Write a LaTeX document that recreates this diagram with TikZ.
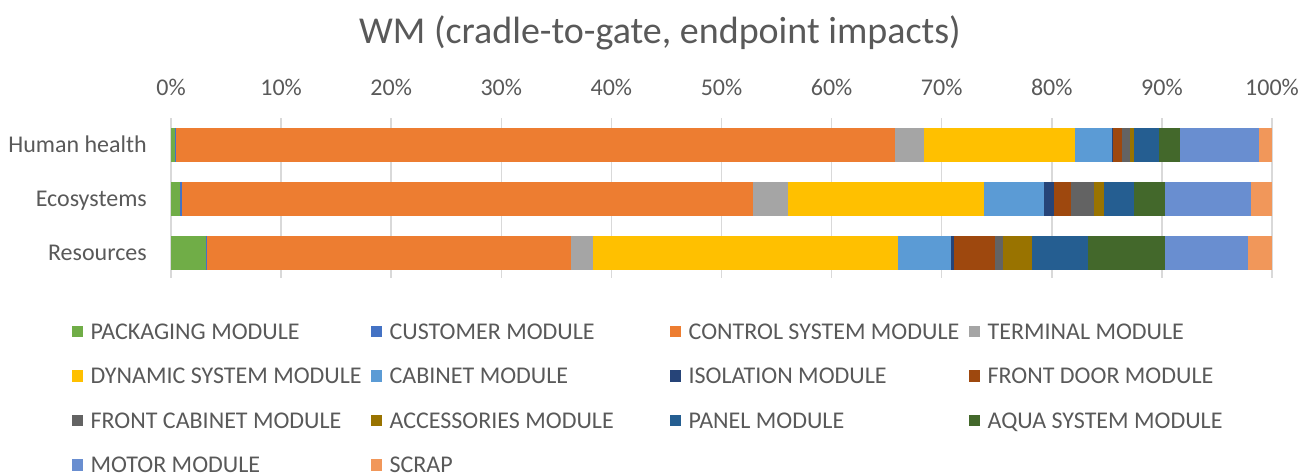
\documentclass[tikz,border=0pt]{standalone}
\usepackage{fontspec}
\setmainfont{Carlito}
\usepackage{xcolor}
\usetikzlibrary{positioning}

\definecolor{axisgray}{HTML}{595959}
\definecolor{gridgray}{HTML}{D9D9D9}
\definecolor{mod1}{HTML}{70AD47}
\definecolor{mod2}{HTML}{4472C4}
\definecolor{mod3}{HTML}{ED7D31}
\definecolor{mod4}{HTML}{A5A5A5}
\definecolor{mod5}{HTML}{FFC000}
\definecolor{mod6}{HTML}{5B9BD5}
\definecolor{mod7}{HTML}{264478}
\definecolor{mod8}{HTML}{9E480E}
\definecolor{mod9}{HTML}{636363}
\definecolor{mod10}{HTML}{997300}
\definecolor{mod11}{HTML}{255E91}
\definecolor{mod12}{HTML}{43682B}
\definecolor{mod13}{HTML}{698ED0}
\definecolor{mod14}{HTML}{F1975A}

\newcommand{\healthends}{0.4,0.45,65.8,68.4,82.1,85.5,85.6,86.4,87.1,87.5,89.7,91.6,98.8,100}
\newcommand{\ecoends}{0.8,1.0,52.9,56.0,73.8,79.3,80.2,81.7,83.8,84.7,87.5,90.3,98.1,100}
\newcommand{\resends}{3.15,3.3,36.3,38.3,66.0,70.8,71.1,74.8,75.6,78.2,83.3,90.3,97.8,100}

\begin{document}
\begin{tikzpicture}[
            x=1pt, y=-1pt,
            txt/.style={text=axisgray, inner sep=0pt, text height=15.5pt, text depth=0pt},
            charttitle/.style={txt, font=\fontsize{38}{44}\selectfont, text height=24.5pt},
            ticklabel/.style={txt, font=\fontsize{24}{28}\selectfont},
            catlabel/.style={txt, font=\fontsize{24}{28}\selectfont, anchor=east},
            legtext/.style={txt, font=\fontsize{24}{28}\selectfont, anchor=west},
            legkey/.style={minimum size=11.5pt, inner sep=0pt},
            gridline/.style={draw=gridgray, line width=1.5pt},
        ]
            \useasboundingbox (0,0) rectangle (1315,475);
            \node[charttitle] (title) at (660,31) {WM (cradle-to-gate, endpoint impacts)};
            \begin{scope}[shift={(171,0)}, x=11.01pt]
                \foreach \p [count=\k] in {0,10,...,100} {
                    \draw[gridline] (\p,118) -- (\p,278);
                    \node[ticklabel] (tick\k) at (\p,88) {\p\%};
                }
                \foreach \cat/\yc/\ends [count=\ci] in {Human health/144.5/\healthends, Ecosystems/198.7/\ecoends, Resources/252.7/\resends} {
                    \node[catlabel, xshift=-24pt] (cat\ci) at (0,\yc) {\cat};
                    \edef\endlist{\ends}
                    \foreach \e [count=\i, remember=\e as \s (initially 0)] in \endlist
                        \fill[mod\i] (\s,\yc-17) rectangle (\e,\yc+17);
                }
            \end{scope}
            \foreach \lab [count=\i] in {
                PACKAGING MODULE, CUSTOMER MODULE, CONTROL SYSTEM MODULE, TERMINAL MODULE,
                DYNAMIC SYSTEM MODULE, CABINET MODULE, ISOLATION MODULE, FRONT DOOR MODULE,
                FRONT CABINET MODULE, ACCESSORIES MODULE, PANEL MODULE, AQUA SYSTEM MODULE,
                MOTOR MODULE, SCRAP
            } {
                \pgfmathtruncatemacro\col{mod(\i-1,4)}
                \pgfmathtruncatemacro\rw{div(\i-1,4)}
                \node[legkey, fill=mod\i] (key\i) at (77.5+299*\col, 331.5+44.5*\rw) {};
                \node[legtext, right=7pt of key\i] (leg\i) {\lab};
            }
        \end{tikzpicture}
\end{document}
